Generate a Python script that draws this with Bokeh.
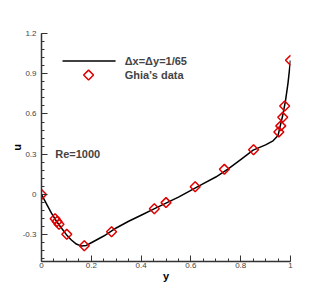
import numpy as np
from bokeh.plotting import figure
from bokeh.models import FixedTicker, Label
from bokeh.embed import file_html
from bokeh.resources import INLINE

# Ghia et al. (1982), Re=1000, u along vertical centerline
ghia_y = [0.0000, 0.0547, 0.0625, 0.0703, 0.1016, 0.1719, 0.2813, 0.4531, 0.5000,
          0.6172, 0.7344, 0.8516, 0.9531, 0.9609, 0.9688, 0.9766, 1.0000]
ghia_u = [0.00000, -0.18109, -0.20196, -0.22220, -0.29730, -0.38289, -0.27805, -0.10648,
          -0.06080, 0.05702, 0.18719, 0.33304, 0.46604, 0.51117, 0.57492, 0.65928, 1.00000]

# simulation (dx=dy=1/65)
sim_y = [0.0, 0.02, 0.04, 0.06, 0.08, 0.10, 0.12, 0.14, 0.16, 0.18, 0.20, 0.25, 0.30,
         0.35, 0.40, 0.45, 0.50, 0.55, 0.60, 0.65, 0.70, 0.75, 0.80, 0.85, 0.90, 0.93,
         0.95, 0.97, 0.98, 0.99, 1.0]
sim_u = [0.0, -0.07, -0.14, -0.20, -0.25, -0.30, -0.34, -0.37, -0.385, -0.38, -0.36,
         -0.31, -0.25, -0.20, -0.155, -0.11, -0.065, -0.02, 0.03, 0.08, 0.13, 0.19,
         0.26, 0.33, 0.37, 0.40, 0.44, 0.60, 0.70, 0.83, 1.0]

x_ticks = [0, 0.2, 0.4, 0.6, 0.8, 1.0]
x_labels = ["0", "0.2", "0.4", "0.6", "0.8", "1"]
y_ticks = [-0.3, 0, 0.3, 0.6, 0.9, 1.2]
y_labels = ["-0.3", "0", "0.3", "0.6", "0.9", "1.2"]

legend_labels = ["Δx=Δy=1/65", "Ghia’s data"]

FONT = "Liberation Sans"
RED = "#e00000"

p = figure(width=316, height=284, output_backend="svg", toolbar_location=None,
           x_range=(0, 1), y_range=(-0.5, 1.2),
           min_border_left=41, min_border_right=26, min_border_top=33, min_border_bottom=23)
p.outline_line_color = None
p.grid.visible = False

p.line(sim_y, sim_u, line_color="black", line_width=1.5)
p.scatter(ghia_y, ghia_u, marker="square", angle=np.pi / 4, size=7,
          fill_color=None, line_color=RED, line_width=1.5)

xminor = [round(0.05 * i, 2) for i in range(21)]
yminor = [round(-0.48 + 0.06 * i, 2) for i in range(29)]
p.xaxis.ticker = FixedTicker(ticks=x_ticks, minor_ticks=xminor)
p.yaxis.ticker = FixedTicker(ticks=y_ticks, minor_ticks=yminor)
p.xaxis.major_label_overrides = {t: l for t, l in zip(x_ticks, x_labels)}
p.yaxis.major_label_overrides = {t: l for t, l in zip(y_ticks, y_labels)}

for ax in (p.xaxis, p.yaxis):
    ax.major_tick_in = 6
    ax.major_tick_out = 0
    ax.minor_tick_in = 3
    ax.minor_tick_out = 0
    ax.axis_line_color = "#333333"
    ax.major_tick_line_color = "#333333"
    ax.minor_tick_line_color = "#333333"
    ax.axis_line_width = 1.5
    ax.major_label_text_font = FONT
    ax.major_label_text_font_size = "8px"
    ax.major_label_text_color = "#444444"
    ax.axis_label_text_font = FONT
    ax.axis_label_text_font_size = "11px"
    ax.axis_label_text_font_style = "bold"
    ax.axis_label_text_color = "black"

p.xaxis.axis_label = "y"
p.yaxis.axis_label = "u"
p.xaxis.axis_label_standoff = -1
p.yaxis.axis_label_standoff = -3
p.xaxis.major_label_standoff = 1
p.yaxis.major_label_standoff = 5

# manual legend (diamond sample must be rotated like the data markers)
p.line([0.0844, 0.2975], [0.995, 0.995], line_color="black", line_width=1.5)
p.scatter([0.189], [0.89], marker="square", angle=np.pi / 4, size=7,
          fill_color=None, line_color=RED, line_width=1.5)
for lab, uy in zip(legend_labels, [0.995, 0.89]):
    p.add_layout(Label(x=0.334, y=uy, text=lab, text_font=FONT, text_font_size="11px",
                       text_font_style="bold", text_baseline="middle"))

p.add_layout(Label(x=0.055, y=0.3, text="Re=1000", text_font=FONT, text_font_size="11px",
                   text_font_style="bold", text_baseline="middle"))

open("out.html", "w").write(file_html(p, INLINE))
